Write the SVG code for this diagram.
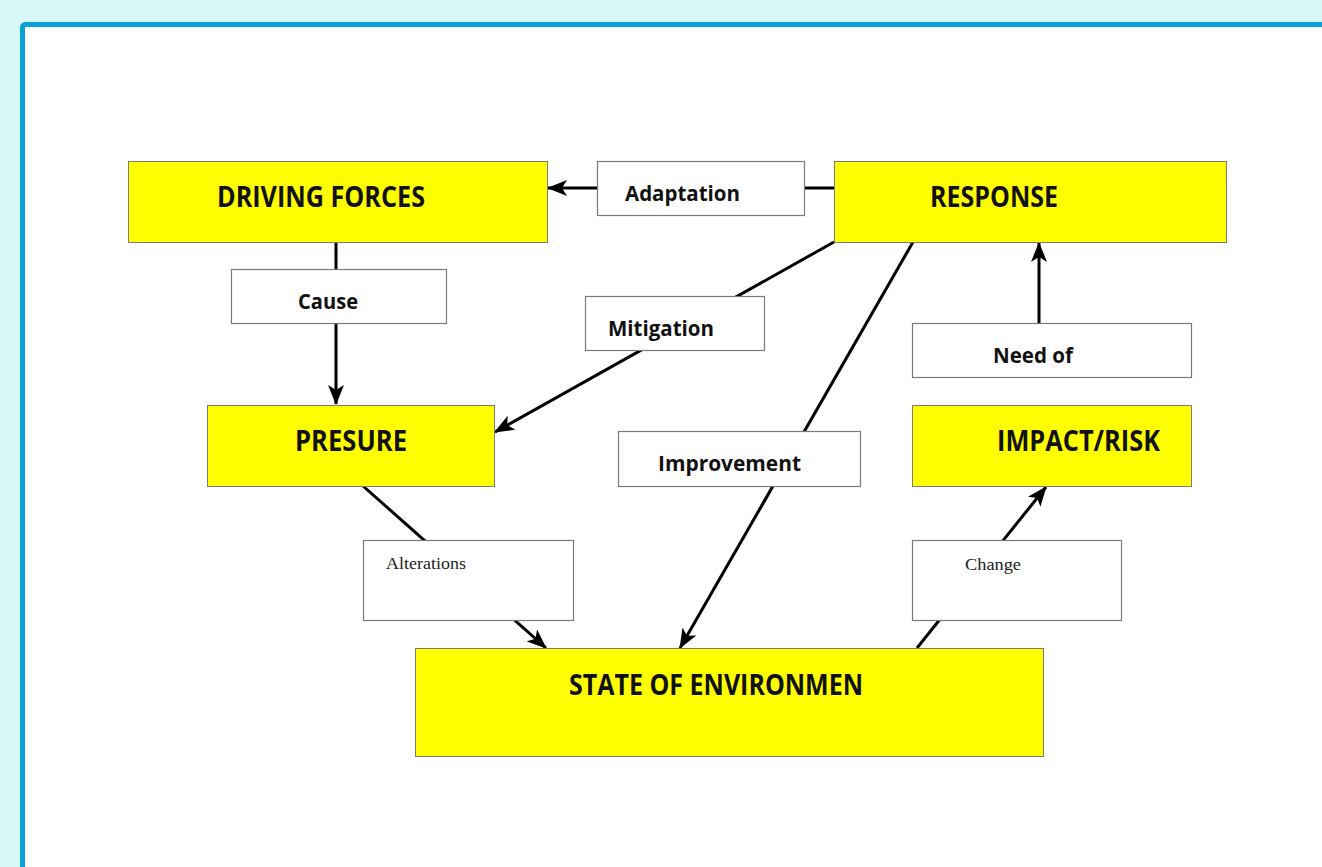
<svg xmlns="http://www.w3.org/2000/svg" width="1322" height="867" viewBox="0 0 1322 867">
<style>
.main{fill:#ffff00;stroke:#7a7a7a;stroke-width:1}
.lbl{fill:#ffffff;stroke:#7a7a7a;stroke-width:1.2}
.bt{font-family:"Open Sans","Liberation Sans",sans-serif;font-weight:bold;fill:#111}
.st{font-family:"Liberation Serif","DejaVu Serif",serif;fill:#222}
.con{stroke:#000;stroke-width:3;fill:none}
</style>
<defs>
<marker id="ah" viewBox="0 0 20 16" refX="19" refY="8" markerWidth="20" markerHeight="16" markerUnits="userSpaceOnUse" orient="auto">
<path d="M0,0 L20,8 L0,16 L5,8 Z" fill="#000"/>
</marker>
</defs>
<rect x="0" y="0" width="1322" height="867" fill="#d6f8f8"/>
<rect x="22.5" y="24.5" width="1330" height="880" rx="3" fill="#ffffff" stroke="#0aa0d8" stroke-width="5"/>
<g id="connectors">
<line class="con" x1="834" y1="188" x2="548" y2="188" marker-end="url(#ah)"/>
<line class="con" x1="336" y1="242" x2="336" y2="404" marker-end="url(#ah)"/>
<line class="con" x1="834" y1="242" x2="495" y2="432" marker-end="url(#ah)"/>
<line class="con" x1="913" y1="242" x2="680" y2="648" marker-end="url(#ah)"/>
<line class="con" x1="1039" y1="323" x2="1039" y2="243" marker-end="url(#ah)"/>
<line class="con" x1="363" y1="486" x2="546" y2="648" marker-end="url(#ah)"/>
<line class="con" x1="917" y1="648" x2="1046" y2="487" marker-end="url(#ah)"/>
</g>
<g id="driving-forces">
<rect class="main" x="128.5" y="161.5" width="419" height="81"/>
<text class="bt" x="217" y="207" font-size="28" textLength="208" lengthAdjust="spacingAndGlyphs">DRIVING FORCES</text>
</g>
<g id="response">
<rect class="main" x="834.5" y="161.5" width="392" height="81"/>
<text class="bt" x="930" y="207" font-size="28" textLength="128" lengthAdjust="spacingAndGlyphs">RESPONSE</text>
</g>
<g id="adaptation">
<rect class="lbl" x="597.5" y="161.5" width="207" height="54"/>
<text class="bt" x="625" y="201" font-size="22" textLength="115" lengthAdjust="spacingAndGlyphs">Adaptation</text>
</g>
<g id="cause">
<rect class="lbl" x="231.5" y="269.5" width="215" height="54"/>
<text class="bt" x="298" y="309" font-size="22" textLength="60" lengthAdjust="spacingAndGlyphs">Cause</text>
</g>
<g id="presure">
<rect class="main" x="207.5" y="405.5" width="287" height="81"/>
<text class="bt" x="295" y="451" font-size="28" textLength="112" lengthAdjust="spacingAndGlyphs">PRESURE</text>
</g>
<g id="mitigation">
<rect class="lbl" x="585.5" y="296.5" width="179" height="54"/>
<text class="bt" x="608" y="336" font-size="22" textLength="106" lengthAdjust="spacingAndGlyphs">Mitigation</text>
</g>
<g id="improvement">
<rect class="lbl" x="618.5" y="431.5" width="242" height="55"/>
<text class="bt" x="658" y="471" font-size="22" textLength="143" lengthAdjust="spacingAndGlyphs">Improvement</text>
</g>
<g id="need-of">
<rect class="lbl" x="912.5" y="323.5" width="279" height="54"/>
<text class="bt" x="993" y="363" font-size="22" textLength="80" lengthAdjust="spacingAndGlyphs">Need of</text>
</g>
<g id="impact-risk">
<rect class="main" x="912.5" y="405.5" width="279" height="81"/>
<text class="bt" x="997" y="451" font-size="28" textLength="163" lengthAdjust="spacingAndGlyphs">IMPACT/RISK</text>
</g>
<g id="alterations">
<rect class="lbl" x="363.5" y="540.5" width="210" height="80"/>
<text class="st" x="386" y="569" font-size="17" textLength="80" lengthAdjust="spacingAndGlyphs">Alterations</text>
</g>
<g id="change">
<rect class="lbl" x="912.5" y="540.5" width="209" height="80"/>
<text class="st" x="965" y="570" font-size="17" textLength="56" lengthAdjust="spacingAndGlyphs">Change</text>
</g>
<g id="state-of-environmen">
<rect class="main" x="415.5" y="648.5" width="628" height="108"/>
<text class="bt" x="569" y="695" font-size="28" textLength="294" lengthAdjust="spacingAndGlyphs">STATE OF ENVIRONMEN</text>
</g>
</svg>
